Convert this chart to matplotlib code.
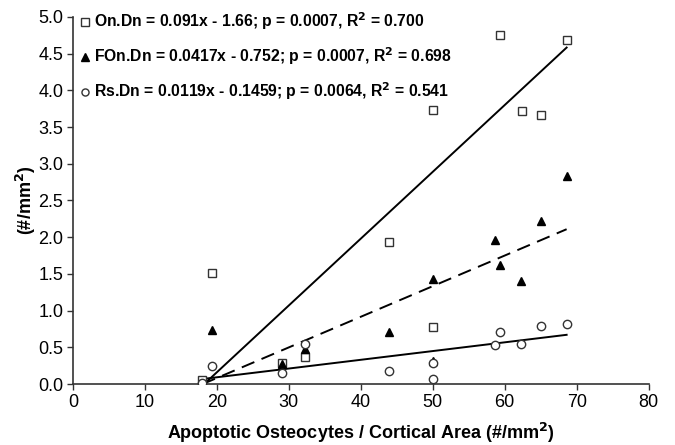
import numpy as np
import matplotlib
matplotlib.use("Agg")
import matplotlib.pyplot as plt

plt.rcParams['font.family'] = ['Liberation Sans', 'DejaVu Sans']

# apoptotic osteocyte density (x) for each series
on_x = [18.0, 19.3, 29.1, 32.2, 43.9, 50.0, 50.0, 59.4, 62.4, 65.0, 68.6]
on_y = [0.05, 1.51, 0.28, 0.37, 1.94, 0.78, 3.73, 4.76, 3.72, 3.67, 4.69]

fon_x = [18.0, 19.3, 29.1, 32.2, 43.9, 50.0, 50.0, 58.6, 59.4, 62.3, 65.0, 68.6]
fon_y = [0.02, 0.74, 0.27, 0.48, 0.71, 1.43, 0.31, 1.96, 1.62, 1.40, 2.22, 2.83]

rs_x = [18.0, 19.3, 29.1, 32.2, 43.9, 50.0, 50.0, 58.6, 59.4, 62.3, 65.0, 68.6]
rs_y = [0.02, 0.24, 0.15, 0.54, 0.18, 0.07, 0.28, 0.53, 0.71, 0.55, 0.79, 0.82]

# regression fits from the legend
on_fit = (0.091, -1.66)
fon_fit = (0.0417, -0.752)
rs_fit = (0.0119, -0.1459)

labels = [
    r'On.Dn = 0.091x - 1.66; p = 0.0007, R$^\mathbf{2}$ = 0.700',
    r'FOn.Dn = 0.0417x - 0.752; p = 0.0007, R$^\mathbf{2}$ = 0.698',
    r'Rs.Dn = 0.0119x - 0.1459; p = 0.0064, R$^\mathbf{2}$ = 0.541',
]

fig = plt.figure(figsize=(6.75, 4.45), dpi=100)
ax = fig.add_axes([0.108, 0.137, 0.853, 0.825])

ax.plot(on_x, on_y, ls='none', marker='s', ms=6, mfc='white', mec='#333333',
        mew=1.0, label=labels[0], zorder=3)
ax.plot(fon_x, fon_y, ls='none', marker='^', ms=6, mfc='black', mec='black',
        label=labels[1], zorder=3)
ax.plot(rs_x, rs_y, ls='none', marker='o', ms=6, mfc='white', mec='#333333',
        mew=1.0, label=labels[2], zorder=3)

xs = np.array([min(on_x), max(on_x)])
ax.plot(xs, on_fit[0] * xs + on_fit[1], color='black', lw=1.4)
ax.plot(xs, fon_fit[0] * xs + fon_fit[1], color='black', lw=1.4, ls=(0, (7, 4)))
ax.plot(xs, rs_fit[0] * xs + rs_fit[1], color='black', lw=1.4)

ax.set_xlim(0, 80)
ax.set_ylim(0, 5.0)
ax.set_xticks(np.arange(0, 81, 10))
ax.set_yticks(np.arange(0, 5.01, 0.5))
ax.yaxis.set_major_formatter(matplotlib.ticker.FormatStrFormatter('%.1f'))
ax.tick_params(labelsize=13, length=4, width=1, color='#333333', pad=3)
for s in ['top', 'right']:
    ax.spines[s].set_visible(False)
for s in ['left', 'bottom']:
    ax.spines[s].set_linewidth(1.2)
    ax.spines[s].set_color('#333333')

ax.set_xlabel(r'Apoptotic Osteocytes / Cortical Area (#/mm$^\mathbf{2}$)',
              fontsize=13, fontweight='bold', labelpad=7)
ax.set_ylabel(r'(#/mm$^\mathbf{2}$)', fontsize=13, fontweight='bold', labelpad=0)

ax.legend(loc='upper left', bbox_to_anchor=(0.0, 1.035), frameon=False,
          handlelength=0.8, handletextpad=0.15, labelspacing=0.85,
          markerscale=0.85, borderaxespad=0,
          prop={'weight': 'bold', 'size': 11.3})

fig.savefig('out.png', dpi=100)
